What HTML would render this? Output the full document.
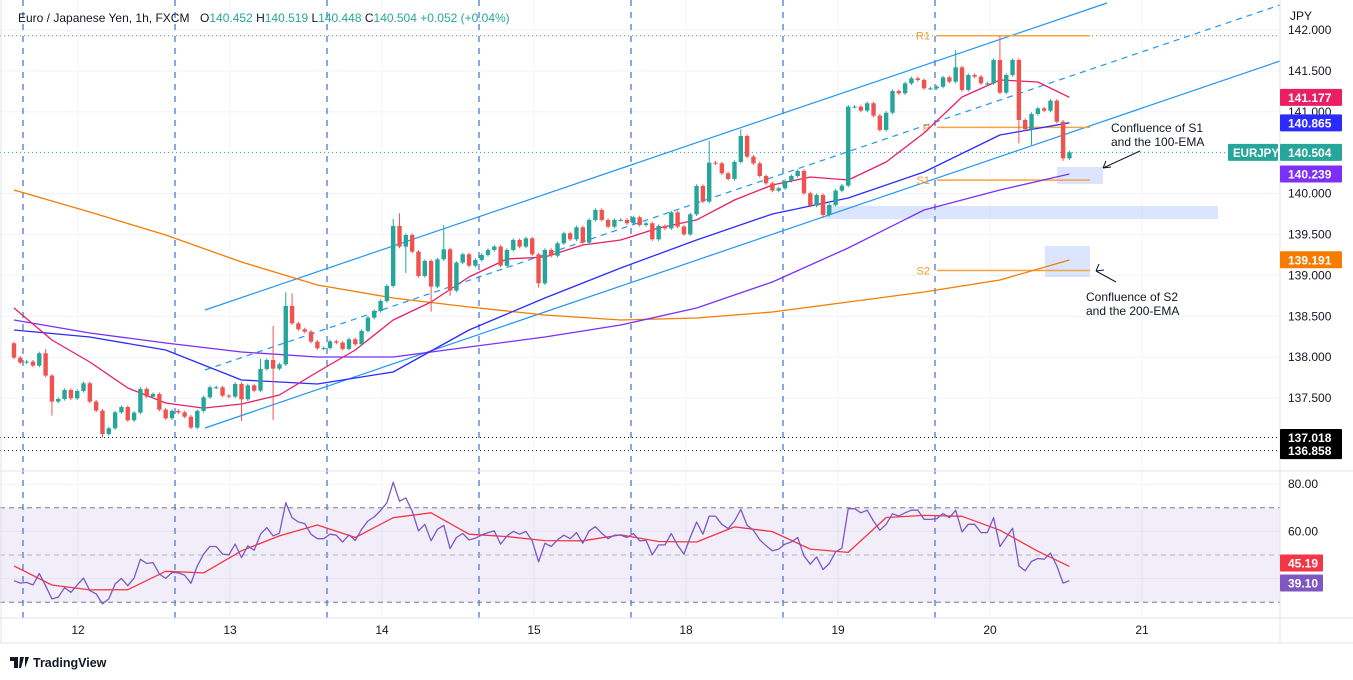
<!DOCTYPE html>
<html><head><meta charset="utf-8">
<style>
html,body{margin:0;padding:0;background:#fff;}
svg{display:block;font-family:"Liberation Sans",sans-serif;}
</style></head>
<body>
<svg id="chart" width="1353" height="680" viewBox="0 0 1353 680" xmlns="http://www.w3.org/2000/svg">
<rect x="0" y="0" width="1353" height="680" fill="#ffffff"/>
<g id="grid"></g>
<g id="overlays"></g>
<g id="emas"></g>
<g id="candles"></g>
<g id="rsi"></g>
<g id="axes"></g>
<g>
<text x="18" y="22" font-size="12" fill="#131722">Euro / Japanese Yen, 1h, FXCM</text>
<text x="200" y="22" font-size="12" fill="#131722">O<tspan fill="#26a69a">140.452</tspan>  H<tspan fill="#26a69a">140.519</tspan>  L<tspan fill="#26a69a">140.448</tspan>  C<tspan fill="#26a69a">140.504</tspan>  <tspan fill="#26a69a">+0.052 (+0.04%)</tspan></text>
</g>
<g>
<path d="M10 657h8v11h-4v-7h-4z M20 657h4l-3 11h-2z M25 657h4l-4 11" fill="#131722"/>
<text x="33" y="667" font-size="12.5" font-weight="bold" fill="#131722">TradingView</text>
</g>
</svg>
<script>
const closes = [
137.995,137.934,137.946,137.897,138.048,137.775,137.457,137.489,137.599,137.497,
137.587,137.681,137.457,137.347,137.061,137.131,137.326,137.391,137.229,137.322,
137.612,137.518,137.550,137.359,137.253,137.343,137.326,137.273,137.139,137.343,
137.510,137.632,137.632,137.530,137.518,137.673,137.485,137.656,137.591,137.856,
137.966,137.860,137.913,138.626,138.414,138.341,138.312,138.190,138.109,138.113,
138.194,
138.178,138.101,138.219,138.158,138.321,138.484,138.565,138.687,138.871,139.604,
139.352,139.494,139.290,138.993,139.176,138.863,139.197,139.319,138.814,139.156,
139.258,139.119,139.189,139.250,139.311,139.352,139.119,139.311,139.433,139.352,
139.453,139.258,138.903,139.311,139.241,139.392,
139.515,139.441,139.588,139.401,139.678,139.800,139.678,139.596,139.678,139.678,
139.637,139.710,139.616,139.637,139.441,139.604,139.575,139.771,139.596,139.502,
139.747,140.093,139.902,140.378,140.370,140.248,140.179,140.387,140.704,140.452,
140.370,140.215,140.126,140.036,140.065,140.154,140.215,140.277,140.004,139.853,
139.983,139.739,139.861,140.036,140.097,
141.063,141.063,141.014,141.104,140.953,140.778,140.989,141.254,141.226,141.348,
141.409,141.389,141.287,141.287,141.307,141.421,141.368,141.544,141.267,141.450,
141.430,141.348,141.348,141.633,141.234,141.450,141.633,140.900,140.786,140.973,
141.042,141.014,141.136,140.879,140.431,140.504];
const firstOpen = 138.170;
const wickHighs = [[5,138.10],[39,137.98],[41,138.382],[43,138.793],[44,138.781],[60,139.690],[61,139.759],[68,139.616],[110,140.647],[115,140.786],[149,141.755],[156,141.927]];
const wickLows = [[6,137.286],[14,137.02],[36,137.22],[41,137.233],[62,139.026],[66,138.557],[69,138.75],[83,138.85],[128,139.698],[159,140.615],[161,140.594],[166,140.40]];
const ema200 = [140.044,139.775,139.494,139.164,138.883,138.724,138.614,138.516,138.455,138.479,138.553,138.675,138.797,138.944,139.188];
const ema100 = [138.455,138.296,138.174,138.064,138.002,138.002,138.125,138.247,138.394,138.601,138.919,139.335,139.800,140.044,140.239];
const ema50 = [138.333,138.247,138.088,137.721,137.672,137.819,138.333,138.724,139.091,139.433,139.751,139.946,140.264,140.716,140.865];
const ema20 = [138.601,138.210,137.941,137.623,137.440,137.378,137.428,137.538,137.819,138.088,138.455,138.675,138.980,139.200,139.225,139.372,139.433,139.580,139.678,139.922,140.105,140.203,140.166,140.386,140.741,141.181,141.389,141.364,141.177];
const rsiValues = [
39.1,38.1,38.4,37.3,42.2,37.0,31.4,32.1,36.2,34.2,
37.3,40.2,34.9,33.5,29.3,31.4,37.7,40.1,37.0,40.2,
48.2,46.4,46.8,41.9,40.1,42.6,42.4,41.5,38.0,45.4,
50.4,53.6,53.6,50.4,50.1,54.6,48.9,53.9,52.0,58.8,
61.6,58.1,59.2,72.1,65.8,64.0,63.3,58.8,56.9,56.9,
58.8,58.4,55.5,58.5,56.2,60.9,64.4,66.1,68.9,72.1,
80.8,72.8,74.2,68.6,60.2,63.0,56.0,60.9,62.6,52.7,
57.4,59.1,56.4,57.1,58.5,59.5,60.2,54.6,58.1,60.0,
58.8,60.0,56.0,47.1,
55.0,53.6,56.4,58.4,56.9,59.5,55.0,60.2,62.0,59.2,
56.9,58.4,58.4,57.4,59.1,56.0,56.2,50.1,54.3,54.3,
59.1,54.1,50.4,57.4,64.0,58.8,66.5,66.5,63.0,61.2,
64.4,69.3,62.6,60.5,56.4,53.9,51.8,52.5,54.6,55.5,
57.4,49.6,46.1,49.2,43.8,46.4,51.3,52.9,69.6,69.6,
67.9,69.0,64.4,60.5,63.0,67.5,66.5,67.9,69.0,69.0,
65.1,65.1,65.4,67.6,65.8,69.0,59.8,63.0,63.0,59.5,
59.5,65.8,53.6,57.4,61.3,45.4,43.3,47.3,48.5,48.2,
50.8,45.4,38.1,39.1];
// RSI moving average sampled every 6 bars
const rsiMA = [45.4,37.3,35.2,35.3,43.1,42.4,51.8,58.1,62.7,57.4,65.8,67.9,58.8,57.8,56.1,56.0,58.5,55.7,55.5,61.9,59.9,52.5,51.1,65.9,66.8,66.4,60.5,51.6,45.19];
const priceTicks = ["137.500","138.000","138.500","139.000","139.500","140.000","140.500","141.000","141.500","142.000"];
const rsiTicks = ["80.00","60.00"];
const dayLabels = ["12","13","14","15","18","19","20","21"];
const pivots = [["R1",141.93],["P",140.81],["S1",140.165],["S2",139.06]];

const NS="http://www.w3.org/2000/svg";
const X0=14, STEP=6.32;
const xBar=i=>X0+i*STEP;
const yP=p=>30+(142-p)*81.8;
const yR=v=>555-(v-50)*2.36;
function mk(tag,attrs,parent){const e=document.createElementNS(NS,tag);for(const k in attrs)e.setAttribute(k,attrs[k]);parent.appendChild(e);return e;}
const G=id=>document.getElementById(id);
const grid=G('grid'),ov=G('overlays'),em=G('emas'),cg=G('candles'),rg=G('rsi'),ax=G('axes');

priceTicks.forEach(t=>{const l=mk('line',{x1:0,x2:1280,y1:yP(+t),y2:yP(+t),stroke:'#f0f3fa'},grid);

});
[80,60,40].forEach(v=>{const l=mk('line',{x1:0,x2:1280,y1:yR(v),y2:yR(v),stroke:'#f0f3fa'},grid);

});
dayLabels.forEach((d,k)=>{const x=78+k*152;const l=mk('line',{x1:x,x2:x,y1:0,y2:618,stroke:'#f0f3fa'},grid);


const t=mk('text',{x:x,y:634,'font-size':12,fill:'#131722','text-anchor':'middle'},ax);t.textContent=d;

});
for(let k=0;k<7;k++){const x=23+k*152;const l=mk('line',{x1:x,x2:x,y1:0,y2:618,stroke:'#3d6fd6','stroke-width':1.2,'stroke-dasharray':'6,6'},grid);

}

[[141.93,'#787b86'],[137.018,'#131722'],[136.858,'#131722'],[140.504,'#26a69a']].forEach(a=>{const l=mk('line',{x1:0,x2:1280,y1:yP(a[0]),y2:yP(a[0]),stroke:a[1],'stroke-dasharray':'1,3'},ov);

});

[[1057,167,46,17],[825,206,393,13],[1045,246,45,31]].forEach(r=>{const e=mk('rect',{x:r[0],y:r[1],width:r[2],height:r[3],fill:'#2962ff','fill-opacity':0.17},ov);

});

[[205,310,1107,3,''],[205,370,1280,5,'6,5'],[205,428,1280,61,'']].forEach(c=>{const l=mk('line',{x1:c[0],y1:c[1],x2:c[2],y2:c[3],stroke:'#2196f3','stroke-width':1.2,'stroke-dasharray':c[4]},ov);

});

pivots.forEach(p=>{const y=yP(p[1]);const l=mk('line',{x1:937,x2:1090,y1:y,y2:y,stroke:'#f7a440','stroke-width':1.5},ov);


const t=mk('text',{x:930,y:y+4,'font-size':11,fill:'#f59a2e','text-anchor':'end'},ov);t.textContent=p[0];

});

function note(lines,x,y,ax1,ay1,ax2,ay2){lines.forEach((s,k)=>{const t=mk('text',{x:x,y:y+k*14,'font-size':12,fill:'#131722'},ov);t.textContent=s;

});
const a=mk('path',{d:`M${ax1} ${ay1}L${ax2} ${ay2}M${ax2} ${ay2}l8 -1M${ax2} ${ay2}l3 -7`,stroke:'#131722',fill:'none'},ov);

}
note(['Confluence of S1','and the 100-EMA'],1111,132,1140,151,1103,168);
note(['Confluence of S2','and the 200-EMA'],1086,301,1116,282,1096,271);

function drawLine(arr,step,color,name,parent,yf){const pts=arr.map((v,k)=>{const i=Math.min(k*step,closes.length-1);return xBar(i).toFixed(1)+','+yf(v).toFixed(1);}).join(' ');
const l=mk('polyline',{points:pts,fill:'none',stroke:color,'stroke-width':1.3,'stroke-linejoin':'round'},parent);

}
drawLine(ema200,12,'#f57c00','ema-200-line',em,yP);
drawLine(ema100,12,'#7b2ff7','ema-100-line',em,yP);
drawLine(ema50,12,'#2b2bff','ema-50-line',em,yP);
drawLine(ema20,6,'#e91e63','ema-20-line',em,yP);

const hiMap={},loMap={};wickHighs.forEach(w=>hiMap[w[0]]=w[1]);wickLows.forEach(w=>loMap[w[0]]=w[1]);
closes.forEach((c,i)=>{const o=i===0?firstOpen:closes[i-1];const up=c>=o;const col=up?'#26a69a':'#ef5350';
const hi=hiMap[i]!==undefined?hiMap[i]:Math.max(o,c)+0.02;const lo=loMap[i]!==undefined?loMap[i]:Math.min(o,c)-0.02;
const x=xBar(i);
const w=mk('line',{x1:x,x2:x,y1:yP(hi),y2:yP(lo),stroke:col,'stroke-width':1},cg);


const top=yP(Math.max(o,c)),h=Math.max(1,Math.abs(yP(o)-yP(c)));
const b=mk('rect',{x:x-2.2,y:top,width:4.4,height:h,fill:col},cg);

});

const band=mk('rect',{x:0,y:yR(70),width:1280,height:yR(30)-yR(70),fill:'#7e57c2','fill-opacity':0.1},rg);


[[70,'#787b86','5,4'],[50,'#b2b5be','5,4'],[30,'#787b86','5,4']].forEach(a=>{const l=mk('line',{x1:0,x2:1280,y1:yR(a[0]),y2:yR(a[0]),stroke:a[1],'stroke-dasharray':a[2]},rg);

});
drawLine(rsiMA,6,'#f23645','rsi-ma-line',rg,yR);
drawLine(rsiValues,1,'#7e57c2','rsi-line',rg,yR);

[[0,471,1353,471],[0,618,1353,618],[1280,0,1280,643],[0,643,1353,643],[1,0,1,643]].forEach(s=>{const l=mk('line',{x1:s[0],y1:s[1],x2:s[2],y2:s[3],stroke:'#e0e3eb'},ax);

});
let t=mk('text',{x:1290,y:20,'font-size':12,fill:'#131722'},ax);t.textContent='JPY';


priceTicks.forEach(s=>{const t=mk('text',{x:1288,y:yP(+s)+4,'font-size':12,fill:'#131722'},ax);t.textContent=s;

});
rsiTicks.forEach(s=>{const t=mk('text',{x:1288,y:yR(+s)+4,'font-size':12,fill:'#131722'},ax);t.textContent=s;

});
function badge(val,y,col,w){const r=mk('rect',{x:1280,y:y-8.5,width:w||62,height:17,fill:col,rx:1},ax);


const t=mk('text',{x:1288,y:y+4.5,'font-size':12,'font-weight':'bold',fill:'#fff'},ax);t.textContent=val;

}
badge('141.177',yP(141.177),'#e91e63');
badge('140.865',yP(140.865),'#2b2bff');
badge('140.504',yP(140.504),'#26a69a');
badge('140.239',yP(140.239),'#7b2ff7');
badge('139.191',yP(139.191),'#f57c00');
badge('137.018',yP(137.018),'#000');
badge('136.858',yP(136.858),'#000');
badge(rsiMA[rsiMA.length-1].toFixed(2),563,'#f23645',43);
badge(rsiValues[rsiValues.length-1].toFixed(2),583,'#7e57c2',43);
const sb=mk('rect',{x:1228,y:yP(140.504)-8.5,width:50,height:17,fill:'#26a69a',rx:1},ax);


t=mk('text',{x:1233,y:yP(140.504)+4.5,'font-size':11.5,'font-weight':'bold',fill:'#fff'},ax);t.textContent='EURJPY';


</script>
</body></html>
